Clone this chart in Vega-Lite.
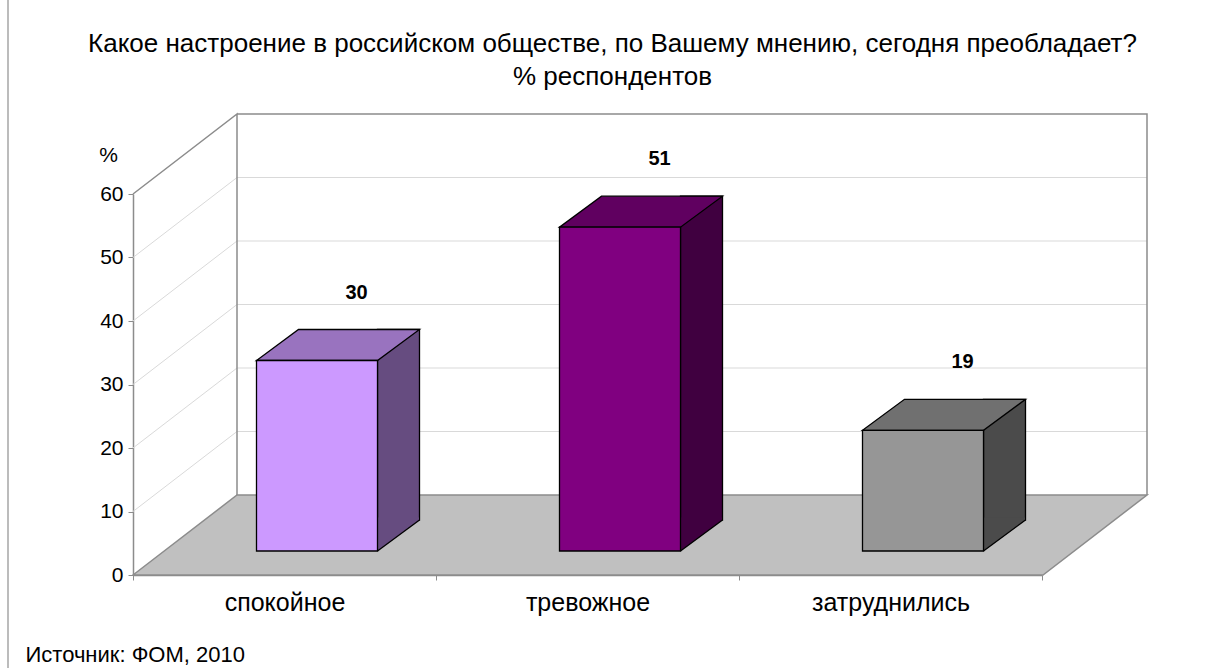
{
  "$schema": "https://vega.github.io/schema/vega-lite/v6.json",
  "autosize": {"type": "none"},
  "width": 909,
  "height": 381,
  "padding": {"left": 133, "top": 194, "right": 182, "bottom": 93},
  "background": "white",
  "config": {"font": "Liberation Sans", "view": {"stroke": null}},
  "title": {
    "text": ["Какое настроение в российском обществе, по Вашему мнению, сегодня преобладает?", "% респондентов"],
    "anchor": "middle",
    "frame": "group",
    "dx": 25,
    "fontSize": 26,
    "fontWeight": "normal",
    "lineHeight": 33,
    "offset": -93,
    "color": "black"
  },
  "datasets": {
    "main": [
      {"cat": "спокойное", "value": 30},
      {"cat": "тревожное", "value": 51},
      {"cat": "затруднились", "value": 19}
    ],
    "grid": [{"v": 10}, {"v": 20}, {"v": 30}, {"v": 40}, {"v": 50}],
    "one": [{"k": 1}]
  },
  "resolve": {"scale": {"color": "independent"}},
  "layer": [
    {
      "data": {"name": "main"},
      "mark": {"type": "bar", "width": 121, "xOffset": 32.5, "yOffset": -24, "y2Offset": -24, "opacity": 0},
      "encoding": {
        "x": {
          "field": "cat", "type": "nominal", "sort": null,
          "scale": {"domain": ["спокойное", "тревожное", "затруднились"], "paddingInner": 0, "paddingOuter": 0},
          "axis": {
            "title": "Источник: ФОМ, 2010",
            "titleX": -108, "titleY": 86, "titleAlign": "left", "titleAnchor": "start", "titleBaseline": "alphabetic",
            "titleFontSize": 22, "titleFontWeight": "normal", "titleColor": "black",
            "labelFontSize": 25, "labelColor": "black", "labelPadding": 10, "labelAngle": 0,
            "tickSize": 5, "tickBand": "extent", "tickColor": "#8c8c8c", "domainColor": "#8c8c8c", "domainWidth": 1.5, "grid": false
          }
        },
        "y": {
          "field": "value", "type": "quantitative",
          "scale": {"domain": [0, 60], "nice": false},
          "axis": {
            "values": [0, 10, 20, 30, 40, 50, 60],
            "title": "%", "titleAngle": 0, "titleX": -25, "titleY": -39, "titleAlign": "center", "titleBaseline": "middle",
            "titleFontSize": 21, "titleFontWeight": "normal", "titleColor": "black",
            "labelFontSize": 21, "labelColor": "black", "labelPadding": 5,
            "tickSize": 5, "tickColor": "#8c8c8c", "domainColor": "#8c8c8c", "domainWidth": 1.5, "grid": false
          }
        }
      }
    },
    {
      "data": {"name": "one"},
      "mark": {"type": "point", "shape": "M-579.5,-575L-579.5,93", "size": 4, "filled": false, "stroke": "#a6a6a6", "color": "#a6a6a6", "strokeWidth": 1.5, "opacity": 1},
      "encoding": {
        "x": {"datum": "тревожное", "type": "nominal"},
        "y": {"datum": 0, "type": "quantitative"}
      }
    },
    {
      "data": {"name": "grid"},
      "mark": {"type": "point", "shape": "M-454.5,0L-350.5,-80L559.5,-80", "size": 4, "filled": false, "stroke": "#d9d9d9", "color": "#d9d9d9", "strokeWidth": 1, "opacity": 1},
      "encoding": {
        "x": {"datum": "тревожное", "type": "nominal"},
        "y": {"field": "v", "type": "quantitative"}
      }
    },
    {
      "data": {"name": "one"},
      "mark": {"type": "point", "shape": "M-454.5,0L-350.5,-80L-350.5,301M-350.5,-80L559.5,-80L559.5,301", "size": 4, "filled": false, "stroke": "#8c8c8c", "color": "#8c8c8c", "strokeWidth": 1.5, "opacity": 1},
      "encoding": {
        "x": {"datum": "тревожное", "type": "nominal"},
        "y": {"datum": 60, "type": "quantitative"}
      }
    },
    {
      "data": {"name": "one"},
      "mark": {"type": "point", "shape": "M-454.5,0L-350.5,-80L559.5,-80L455.5,0Z", "size": 4, "filled": true, "fill": "#c0c0c0", "stroke": "#8c8c8c", "strokeWidth": 1.5, "opacity": 1},
      "encoding": {
        "x": {"datum": "тревожное", "type": "nominal"},
        "y": {"datum": 0, "type": "quantitative"}
      }
    },
    {
      "data": {"name": "main"},
      "mark": {"type": "bar", "width": 42, "xOffset": 114, "yOffset": -55, "y2Offset": -55, "stroke": "black", "strokeWidth": 1.3, "opacity": 1},
      "encoding": {
        "x": {"field": "cat", "type": "nominal"},
        "y": {"field": "value", "type": "quantitative"},
        "color": {"field": "cat", "type": "nominal", "legend": null, "scale": {"domain": ["спокойное", "тревожное", "затруднились"], "range": ["#664C80", "#400040", "#4B4B4B"]}}
      }
    },
    {
      "data": {"name": "main"},
      "mark": {"type": "point", "shape": "M93,-24L134.5,-54.5L134.5,-57.5L93,-57.5Z", "size": 4, "filled": true, "strokeWidth": 0, "opacity": 1},
      "encoding": {
        "x": {"field": "cat", "type": "nominal"},
        "y": {"datum": 0, "type": "quantitative"},
        "color": {"field": "cat", "type": "nominal", "legend": null, "scale": {"domain": ["спокойное", "тревожное", "затруднились"], "range": ["#664C80", "#400040", "#4B4B4B"]}}
      }
    },
    {
      "data": {"name": "main"},
      "mark": {"type": "point", "shape": "M93,-24L135,-55", "size": 4, "filled": false, "stroke": "black", "color": "black", "strokeWidth": 1.3, "opacity": 1},
      "encoding": {
        "x": {"field": "cat", "type": "nominal"},
        "y": {"datum": 0, "type": "quantitative"}
      }
    },
    {
      "data": {"name": "main"},
      "mark": {"type": "point", "shape": "M-28,-24L93,-24L135,-55L14,-55Z", "size": 4, "filled": true, "stroke": "black", "strokeWidth": 1.3, "opacity": 1},
      "encoding": {
        "x": {"field": "cat", "type": "nominal"},
        "y": {"field": "value", "type": "quantitative"},
        "color": {"field": "cat", "type": "nominal", "legend": null, "scale": {"domain": ["спокойное", "тревожное", "затруднились"], "range": ["#9973BF", "#600060", "#707070"]}}
      }
    },
    {
      "data": {"name": "main"},
      "mark": {"type": "bar", "width": 121, "xOffset": 32.5, "yOffset": -24, "y2Offset": -24, "stroke": "black", "strokeWidth": 1.3, "opacity": 1},
      "encoding": {
        "x": {"field": "cat", "type": "nominal"},
        "y": {"field": "value", "type": "quantitative"},
        "color": {"field": "cat", "type": "nominal", "legend": null, "scale": {"domain": ["спокойное", "тревожное", "затруднились"], "range": ["#CC99FF", "#800080", "#969696"]}}
      }
    },
    {
      "data": {"name": "main"},
      "mark": {"type": "text", "xOffset": 72, "yOffset": -92, "fontSize": 20, "fontWeight": "bold", "color": "black"},
      "encoding": {
        "x": {"field": "cat", "type": "nominal"},
        "y": {"field": "value", "type": "quantitative"},
        "text": {"field": "value", "type": "quantitative"}
      }
    }
  ]
}
